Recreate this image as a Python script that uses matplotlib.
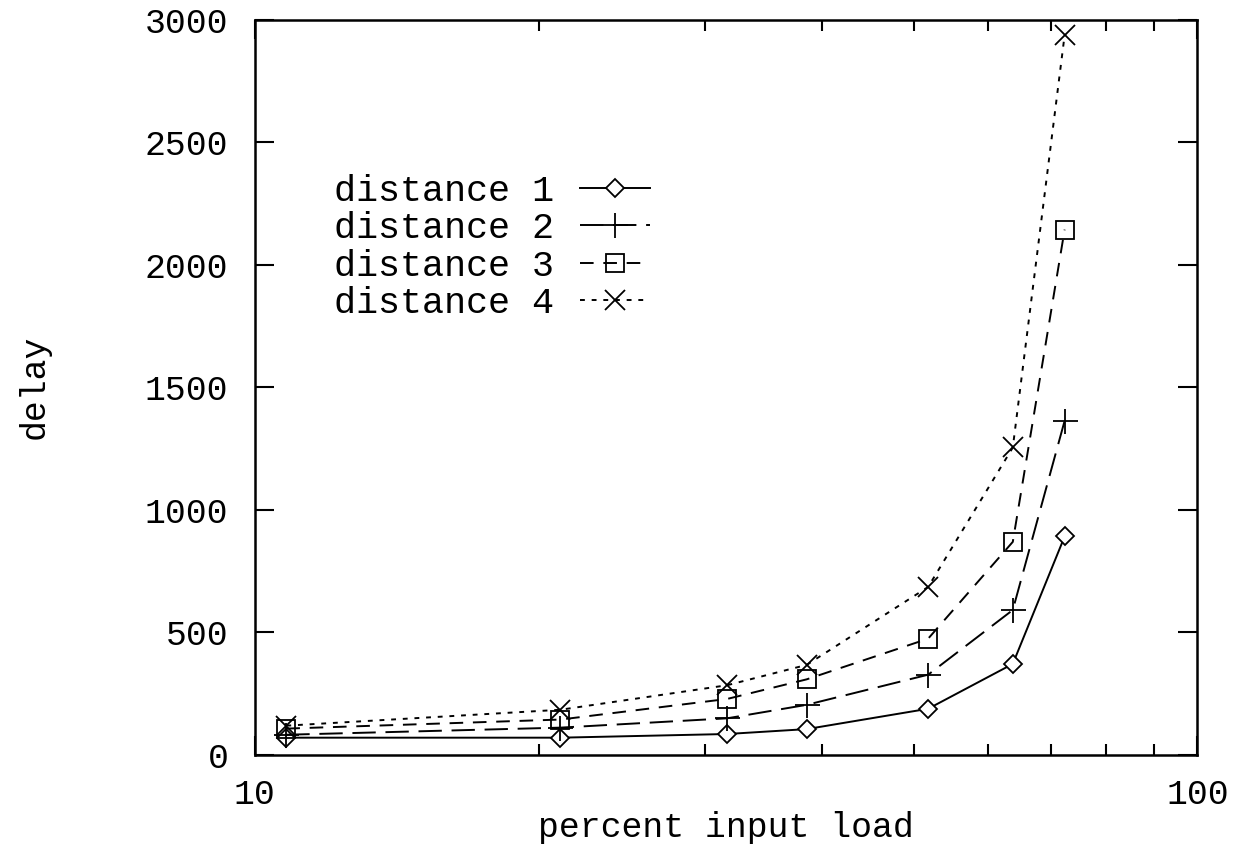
from matplotlib import pyplot as plt
from matplotlib.ticker import LogLocator, NullFormatter, FixedLocator, FixedFormatter

plt.rcParams["font.family"] = ["Liberation Mono", "DejaVu Sans Mono"]

# percent input load
load = [10.8, 21.1, 31.7, 38.5, 51.8, 63.7, 72.3]
# delay per distance
d1 = [70, 70, 85, 105, 188, 371, 891]
d2 = [82, 111, 149, 204, 327, 591, 1363]
d3 = [107, 144, 228, 308, 474, 869, 2143]
d4 = [119, 184, 284, 367, 685, 1254, 2937]
labels = ["distance 1", "distance 2", "distance 3", "distance 4"]

fig = plt.figure(figsize=(12.37, 8.51), dpi=100)
ax = fig.add_axes([0.206, 0.113, 0.762, 0.864])

lw = 1.4
ax.plot(load, d1, color="black", lw=lw, ls="-", marker="D", ms=9, mfc="white", mec="black", mew=1.3, label=labels[0])
ax.plot(load, d2, color="black", lw=lw, ls=(0, (12, 5)), marker="+", ms=18, mew=1.3, label=labels[1])
ax.plot(load, d3, color="black", lw=lw, ls=(0, (7, 5)), marker="s", ms=13, mfc="none", mec="black", mew=1.3, label=labels[2])
ax.plot(load, d4, color="black", lw=lw, ls=(0, (2.5, 3.5)), marker="x", ms=15, mew=1.3, label=labels[3])

ax.set_xscale("log")
ax.set_xlim(10, 100)
ax.set_ylim(0, 3000)
ax.xaxis.set_major_locator(FixedLocator([10, 100]))
ax.xaxis.set_major_formatter(FixedFormatter(["10", "100"]))
ax.xaxis.set_minor_locator(LogLocator(base=10, subs=range(2, 10)))
ax.xaxis.set_minor_formatter(NullFormatter())
ax.set_yticks(range(0, 3001, 500))

ax.tick_params(which="both", direction="in", top=True, right=True, labelsize=25, width=1.5)
ax.tick_params(axis="y", which="major", length=14, pad=19)
ax.tick_params(axis="x", which="major", length=14, pad=17)
ax.tick_params(axis="x", which="minor", length=8)
for s in ax.spines.values():
    s.set_linewidth(1.8)

ax.set_xlabel("percent input load", fontsize=25, labelpad=0)
ax.set_ylabel("delay", fontsize=25, labelpad=68)

ax.legend(loc="upper left", bbox_to_anchor=(0.255, 0.817), bbox_transform=fig.transFigure,
          frameon=False, markerfirst=False, fontsize=26.5, handlelength=1.9,
          handletextpad=0.7, labelspacing=0.06, borderpad=0)

plt.savefig("out.png", dpi=100)
